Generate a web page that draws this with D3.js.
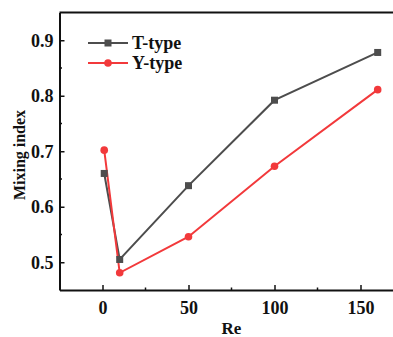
<!DOCTYPE html>
<html>
<head>
<meta charset="utf-8">
<script src="https://cdn.jsdelivr.net/npm/d3@7"></script>
<style>
  body { margin:0; background:#fff; }
  text { font-family: "Liberation Serif", "Times New Roman", serif; font-weight:bold; fill:#111; }
</style>
</head>
<body>
<svg id="chart" width="393" height="337"></svg>
<script>
var reValues = [1, 10, 50, 100, 160];
var tType = [0.660, 0.505, 0.638, 0.792, 0.878];
var yType = [0.702, 0.481, 0.546, 0.673, 0.811];
var xTicks = [0, 50, 100, 150];
var yTicks = [0.5, 0.6, 0.7, 0.8, 0.9];

var svg = d3.select('#chart');
var padLeft = 59.5, padRight = 403.5, padTop = 12.5, padBottom = 290;

var x = d3.scaleLinear().domain([-25, 175]).range([padLeft, padRight]);
var y = d3.scaleLinear().domain([0.45, 0.95]).range([padBottom, padTop]);

// axes, ticks pointing inward
var xAxis = d3.axisBottom(x).tickValues(xTicks).tickSizeInner(-5).tickSizeOuter(0).tickPadding(9);
var yAxis = d3.axisLeft(y).tickValues(yTicks).tickFormat(d3.format('.1f')).tickSizeInner(-5).tickSizeOuter(0).tickPadding(9);

var gx = svg.append('g').attr('transform', 'translate(0,' + padBottom + ')').call(xAxis);
var gy = svg.append('g').attr('transform', 'translate(' + padLeft + ',0)').call(yAxis);
[gx, gy].forEach(function(g) {
  g.select('.domain').attr('stroke', '#111').attr('stroke-width', 2);
  g.selectAll('.tick line').attr('stroke', '#111').attr('stroke-width', 1.5);
  g.selectAll('.tick text').style('font-family', '"Liberation Serif", serif').style('font-weight', 'bold').style('font-size', '18px').attr('fill', '#111');
});
gx.selectAll('.tick text').attr('dy', '0.85em');
gy.selectAll('.tick text').attr('x', -6);

// minor ticks
[25, 75, 125].forEach(function(v) {
  svg.append('line').attr('x1', x(v)).attr('x2', x(v)).attr('y1', padBottom).attr('y2', padBottom - 2.5).attr('stroke', '#111').attr('stroke-width', 1.5);
});
[0.55, 0.65, 0.75, 0.85].forEach(function(v) {
  svg.append('line').attr('x1', padLeft).attr('x2', padLeft + 2.5).attr('y1', y(v)).attr('y2', y(v)).attr('stroke', '#111').attr('stroke-width', 1.5);
});

// top frame
svg.append('line').attr('x1', padLeft).attr('x2', padRight).attr('y1', padTop).attr('y2', padTop).attr('stroke', '#111').attr('stroke-width', 2);

// axis titles
svg.append('text').attr('x', x(75)).attr('y', 334).attr('text-anchor', 'middle').style('font-size', '17px').text('Re');
svg.append('text').attr('transform', 'translate(25,155) rotate(-90)').attr('text-anchor', 'middle').style('font-size', '16px').text('Mixing index');

var line = d3.line().x(function(d) { return x(d[0]); }).y(function(d) { return y(d[1]); });
var tData = reValues.map(function(r, i) { return [r, tType[i]]; });
var yData = reValues.map(function(r, i) { return [r, yType[i]]; });
var gray = '#4d4d4d', red = '#f2393b';

svg.append('path').attr('d', line(tData)).attr('fill', 'none').attr('stroke', gray).attr('stroke-width', 2);
svg.append('path').attr('d', line(yData)).attr('fill', 'none').attr('stroke', red).attr('stroke-width', 2);

svg.selectAll('.tm').data(tData).enter().append('rect').attr('class', 'tm')
  .attr('x', function(d) { return x(d[0]) - 3.5; }).attr('y', function(d) { return y(d[1]) - 3.5; })
  .attr('width', 7).attr('height', 7).attr('fill', gray);
svg.selectAll('.ym').data(yData).enter().append('circle').attr('class', 'ym')
  .attr('cx', function(d) { return x(d[0]); }).attr('cy', function(d) { return y(d[1]); })
  .attr('r', 3.8).attr('fill', red);

// legend
var legend = [['T-type', gray, 'rect', 43], ['Y-type', red, 'circle', 63]];
legend.forEach(function(l) {
  svg.append('line').attr('x1', 88).attr('x2', 128).attr('y1', l[3]).attr('y2', l[3]).attr('stroke', l[1]).attr('stroke-width', 2);
  if (l[2] === 'rect') svg.append('rect').attr('x', 104.5).attr('y', l[3] - 3.5).attr('width', 7).attr('height', 7).attr('fill', l[1]);
  else svg.append('circle').attr('cx', 108).attr('cy', l[3]).attr('r', 3.8).attr('fill', l[1]);
  svg.append('text').attr('x', 132).attr('y', l[3] + 6).style('font-size', '18px').text(l[0]);
});
</script>
</body>
</html>
